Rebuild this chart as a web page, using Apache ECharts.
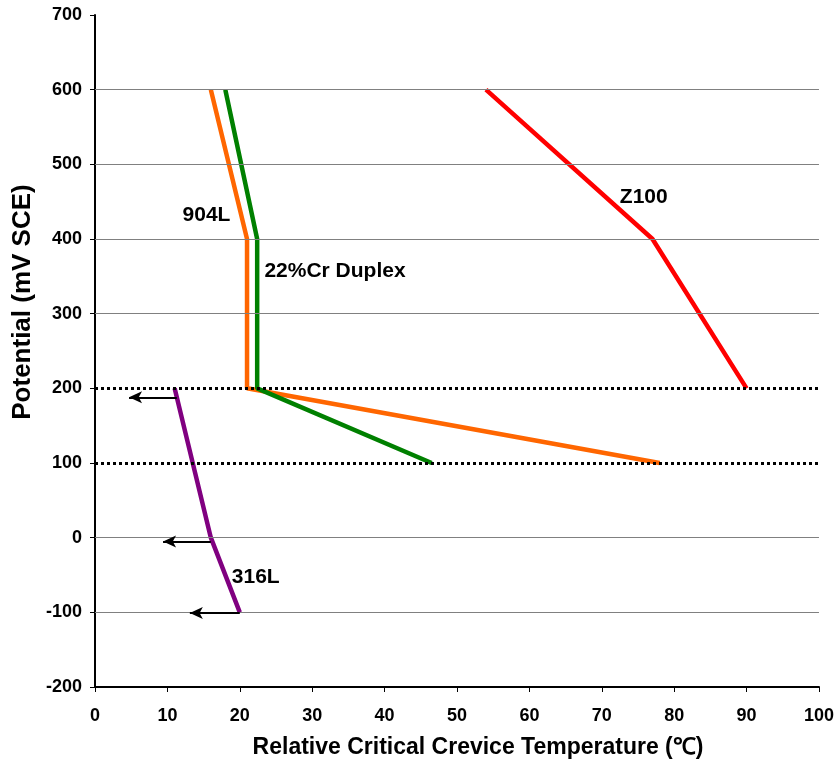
<!DOCTYPE html>
<html>
<head>
<meta charset="utf-8">
<script src="https://cdn.jsdelivr.net/npm/echarts@6/dist/echarts.min.js"></script>
<style>html,body{margin:0;padding:0;background:#fff}#c{width:837px;height:763px}</style>
</head>
<body>
<div id="c"></div>
<script>
// Data: [temperature (°C), potential (mV SCE)]
const s904L = [[16, 600], [21, 400], [21, 200], [78, 100]];
const sDuplex = [[18, 600], [22.4, 400], [22.4, 200], [46.5, 100]];
const sZ100 = [[54, 600], [77, 400], [90, 200]];
const s316L = [[11, 200], [16, 0], [20, -100]];
// arrows: [fromX, toX, y]
const arrows316L = [[11.3, 4.7, 188], [16, 9.4, -5], [20, 13.1, -101]];
const refLines = [200, 100];
const gridValues = [600, 500, 400, 300, 0, -100];
const xTicks = [0, 10, 20, 30, 40, 50, 60, 70, 80, 90, 100];
const yTicks = [-200, -100, 0, 100, 200, 300, 400, 500, 600, 700];

const FONT = '"Liberation Sans", Arial, sans-serif';
const labelStyle = {fontFamily: FONT, fontWeight: 'bold', fontSize: 21, color: '#000'};

function textMark(name, x, y, align) {
  return {
    name: name, coord: [x, y], symbol: 'circle', symbolSize: 0,
    label: Object.assign({show: true, formatter: name, position: 'inside', align: align || 'center', verticalAlign: 'middle'}, labelStyle)
  };
}

const chart = echarts.init(document.getElementById('c'), null, {renderer: 'canvas'});
chart.setOption({
  animation: false,
  backgroundColor: '#fff',
  grid: {left: 95, right: 15, top: 15, bottom: 76, containLabel: false},
  graphic: [
    {type: 'text', x: 478, y: 748, silent: true,
     style: {text: 'Relative Critical Crevice Temperature (\u2103)', font: 'bold 23px ' + FONT, fill: '#000', align: 'center', verticalAlign: 'middle'}},
    {type: 'text', x: 23, y: 302, rotation: Math.PI / 2, silent: true,
     style: {text: 'Potential (mV SCE)', font: 'bold 26px ' + FONT, fill: '#000', align: 'center', verticalAlign: 'middle'}}
  ],
  xAxis: {
    type: 'value', min: 0, max: 100, interval: 10,
    axisLine: {show: true, onZero: false, lineStyle: {color: '#000', width: 2}},
    axisTick: {show: true, inside: false, length: 5, lineStyle: {color: '#000', width: 1}},
    axisLabel: {fontFamily: FONT, fontWeight: 'bold', fontSize: 18, color: '#000', margin: 20},
    splitLine: {show: false}
  },
  yAxis: {
    type: 'value', min: -200, max: 700, interval: 100,
    axisLine: {show: true, onZero: false, lineStyle: {color: '#000', width: 2}},
    axisTick: {show: true, inside: false, length: 5, lineStyle: {color: '#000', width: 1}},
    axisLabel: {fontFamily: FONT, fontWeight: 'bold', fontSize: 18, color: '#000', margin: 13},
    splitLine: {show: false}
  },
  series: [
    {
      type: 'line', name: 'grid', data: [], silent: true,
      markLine: {
        silent: true, symbol: ['none', 'none'], label: {show: false},
        lineStyle: {color: '#808080', width: 1, type: 'solid'},
        data: gridValues.map(v => ({yAxis: v}))
      }
    },
    {
      type: 'line', name: 'ref', data: [], silent: true, z: 5,
      markLine: {
        silent: true, symbol: ['none', 'none'], label: {show: false},
        lineStyle: {color: '#000', width: 3, type: [3, 3]},
        data: refLines.map(v => ({yAxis: v}))
      }
    },
    {
      type: 'line', name: '904L', data: s904L, showSymbol: false, z: 3,
      lineStyle: {color: '#FF6600', width: 4.5}, itemStyle: {color: '#FF6600'},
      markPoint: {data: [textMark('904L', 15.4, 432)]}
    },
    {
      type: 'line', name: '22%Cr Duplex', data: sDuplex, showSymbol: false, z: 3,
      lineStyle: {color: '#008000', width: 4.5}, itemStyle: {color: '#008000'},
      markPoint: {data: [textMark('22%Cr Duplex', 23.4, 357, 'left')]}
    },
    {
      type: 'line', name: 'Z100', data: sZ100, showSymbol: false, z: 3,
      lineStyle: {color: '#FF0000', width: 4.5}, itemStyle: {color: '#FF0000'},
      markPoint: {data: [textMark('Z100', 75.8, 456)]}
    },
    {
      type: 'line', name: '316L', data: s316L, showSymbol: false, z: 3,
      lineStyle: {color: '#800080', width: 4.5}, itemStyle: {color: '#800080'},
      markPoint: {data: [textMark('316L', 22.2, -53)]},
      markLine: {
        silent: true, symbol: ['none', 'arrow'], symbolSize: [9, 13], label: {show: false},
        lineStyle: {color: '#000', width: 2, type: 'solid'},
        data: arrows316L.map(a => [{coord: [a[0], a[2]]}, {coord: [a[1], a[2]]}])
      }
    }
  ]
});
</script>
</body>
</html>
